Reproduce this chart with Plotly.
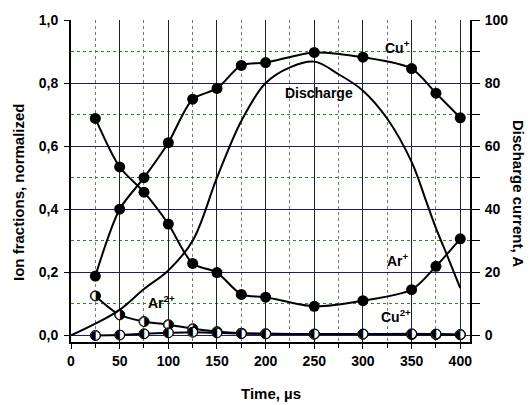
import plotly.graph_objects as go

# ---- data ----
time_ions = [25, 50, 75, 100, 125, 150, 175, 200, 250, 300, 350, 375, 400]
cu_plus = [0.188, 0.400, 0.500, 0.611, 0.749, 0.783, 0.856, 0.865, 0.897, 0.882, 0.846, 0.768, 0.690]
ar_plus = [0.688, 0.534, 0.454, 0.353, 0.228, 0.199, 0.130, 0.121, 0.092, 0.110, 0.145, 0.219, 0.306]
ar_2plus = [0.125, 0.065, 0.044, 0.034, 0.021, 0.012, 0.007, 0.005, 0.004, 0.004, 0.003, 0.003, 0.002]
cu_2plus = [0.000, 0.001, 0.005, 0.008, 0.010, 0.008, 0.006, 0.005, 0.004, 0.004, 0.005, 0.004, 0.003]

time_dis = [0, 25, 50, 75, 100, 125, 150, 175, 200, 225, 250, 275, 300, 325, 350, 365, 375, 387, 400]
discharge = [0, 3.7, 8.1, 14.7, 20.6, 30, 50, 68, 80, 85, 86.8, 82.8, 77.6, 68.7, 55, 42.5, 34, 25, 15]

x_ticks = [0, 50, 100, 150, 200, 250, 300, 350, 400]
y_ticks = [0.0, 0.2, 0.4, 0.6, 0.8, 1.0]
y2_ticks = [0, 20, 40, 60, 80, 100]

FONT = "Liberation Sans"
BLACK = "#000000"
NAVY = "#1c1c70"
GREEN = "#2a8a2a"

fig = go.Figure()

# half-filled series (Ar2+, Cu2+)
for yv, glyph in [(ar_2plus, "\u25D1"), (cu_2plus, "\u25D0")]:
    fig.add_trace(go.Scatter(
        x=time_ions, y=yv, mode="lines+markers+text",
        line=dict(color=BLACK, width=2, shape="spline", smoothing=0.8),
        marker=dict(symbol="circle", size=10, color="white", line=dict(color=BLACK, width=1)),
        text=[glyph] * len(time_ions), textposition="middle center",
        textfont=dict(family="DejaVu Sans", size=13, color=BLACK),
        showlegend=False, hoverinfo="skip"))

# filled series
for yv in (ar_plus, cu_plus):
    fig.add_trace(go.Scatter(
        x=time_ions, y=yv, mode="lines+markers",
        line=dict(color=BLACK, width=2, shape="spline", smoothing=0.8),
        marker=dict(symbol="circle", size=11, color=BLACK),
        showlegend=False))

# discharge current on right axis
fig.add_trace(go.Scatter(
    x=time_dis, y=discharge, mode="lines", yaxis="y2",
    line=dict(color=BLACK, width=2, shape="spline", smoothing=1.0),
    showlegend=False))

tickfont = dict(family=FONT, size=14, color=BLACK, weight="bold")

fig.update_layout(
    width=530, height=405, autosize=False,
    margin=dict(l=71, r=60, t=17, b=63, pad=0),
    paper_bgcolor="white", plot_bgcolor="white",
    separators=",.",
    font=dict(family=FONT, color=BLACK),
    xaxis=dict(
        range=[0, 410], tickvals=x_ticks, ticktext=[str(v) for v in x_ticks],
        showline=True, linecolor=BLACK, linewidth=2, mirror=False,
        ticks="outside", ticklen=5, tickwidth=1, tickcolor=BLACK,
        showgrid=True, gridcolor="#222222", gridwidth=1,
        minor=dict(dtick=25, tick0=0, showgrid=True, gridcolor="#777777", griddash="dot",
                   gridwidth=1, ticks="outside", ticklen=4, tickcolor=BLACK),
        tickfont=tickfont, zeroline=False, fixedrange=True),
    yaxis=dict(
        range=[-0.021, 1.0], tickvals=y_ticks, ticktext=[f"{v:.1f}".replace(".", ",") for v in y_ticks],
        showline=True, linecolor=BLACK, linewidth=2,
        ticks="outside", ticklen=5, tickwidth=1, tickcolor=BLACK,
        showgrid=True, gridcolor=NAVY, gridwidth=1.3,
        minor=dict(dtick=0.1, tick0=0, showgrid=True, gridcolor=GREEN, griddash="dot", gridwidth=1),
        tickfont=tickfont, zeroline=False, ticklabelstandoff=3),
    yaxis2=dict(
        range=[-2.1, 100], tickvals=y2_ticks, ticktext=[str(v) for v in y2_ticks],
        overlaying="y", side="right", anchor="x",
        showline=True, linecolor=BLACK, linewidth=2,
        ticks="outside", ticklen=8, tickwidth=1, tickcolor=BLACK,
        minor=dict(dtick=10, tick0=0, ticks="outside", ticklen=8, tickcolor=BLACK, showgrid=False),
        showgrid=False, zeroline=False, tickfont=tickfont, ticklabelstandoff=2),
)

ann_font = dict(family=FONT, size=15, color=BLACK, weight="bold")
lbl_font = dict(family=FONT, size=14, color=BLACK, weight="bold")

fig.add_annotation(text="Time, \u00b5s", xref="paper", yref="paper", x=0.5, y=0,
                   yshift=-51, showarrow=False, font=ann_font, xanchor="center", yanchor="middle")
fig.add_annotation(text="Ion fractions, normalized", xref="paper", yref="paper", x=0, y=0.5,
                   xshift=-53, yshift=-11, textangle=-90, showarrow=False, font=ann_font,
                   xanchor="center", yanchor="middle")
fig.add_annotation(text="Discharge current, A", xref="paper", yref="paper", x=1, y=0.5,
                   xshift=49, yshift=-12, textangle=90, showarrow=False, font=ann_font,
                   xanchor="center", yanchor="middle")

labels = [
    ("Cu<sup>+</sup>", 336, 0.915),
    ("Discharge", 255, 0.77),
    ("Ar<sup>+</sup>", 336, 0.24),
    ("Cu<sup>2+</sup>", 334, 0.06),
    ("Ar<sup>2+</sup>", 93, 0.105),
]
for txt, xv, yv in labels:
    fig.add_annotation(text=txt, x=xv, y=yv, xref="x", yref="y", showarrow=False,
                       font=lbl_font, xanchor="center", yanchor="middle")

fig.write_html("out.html")
